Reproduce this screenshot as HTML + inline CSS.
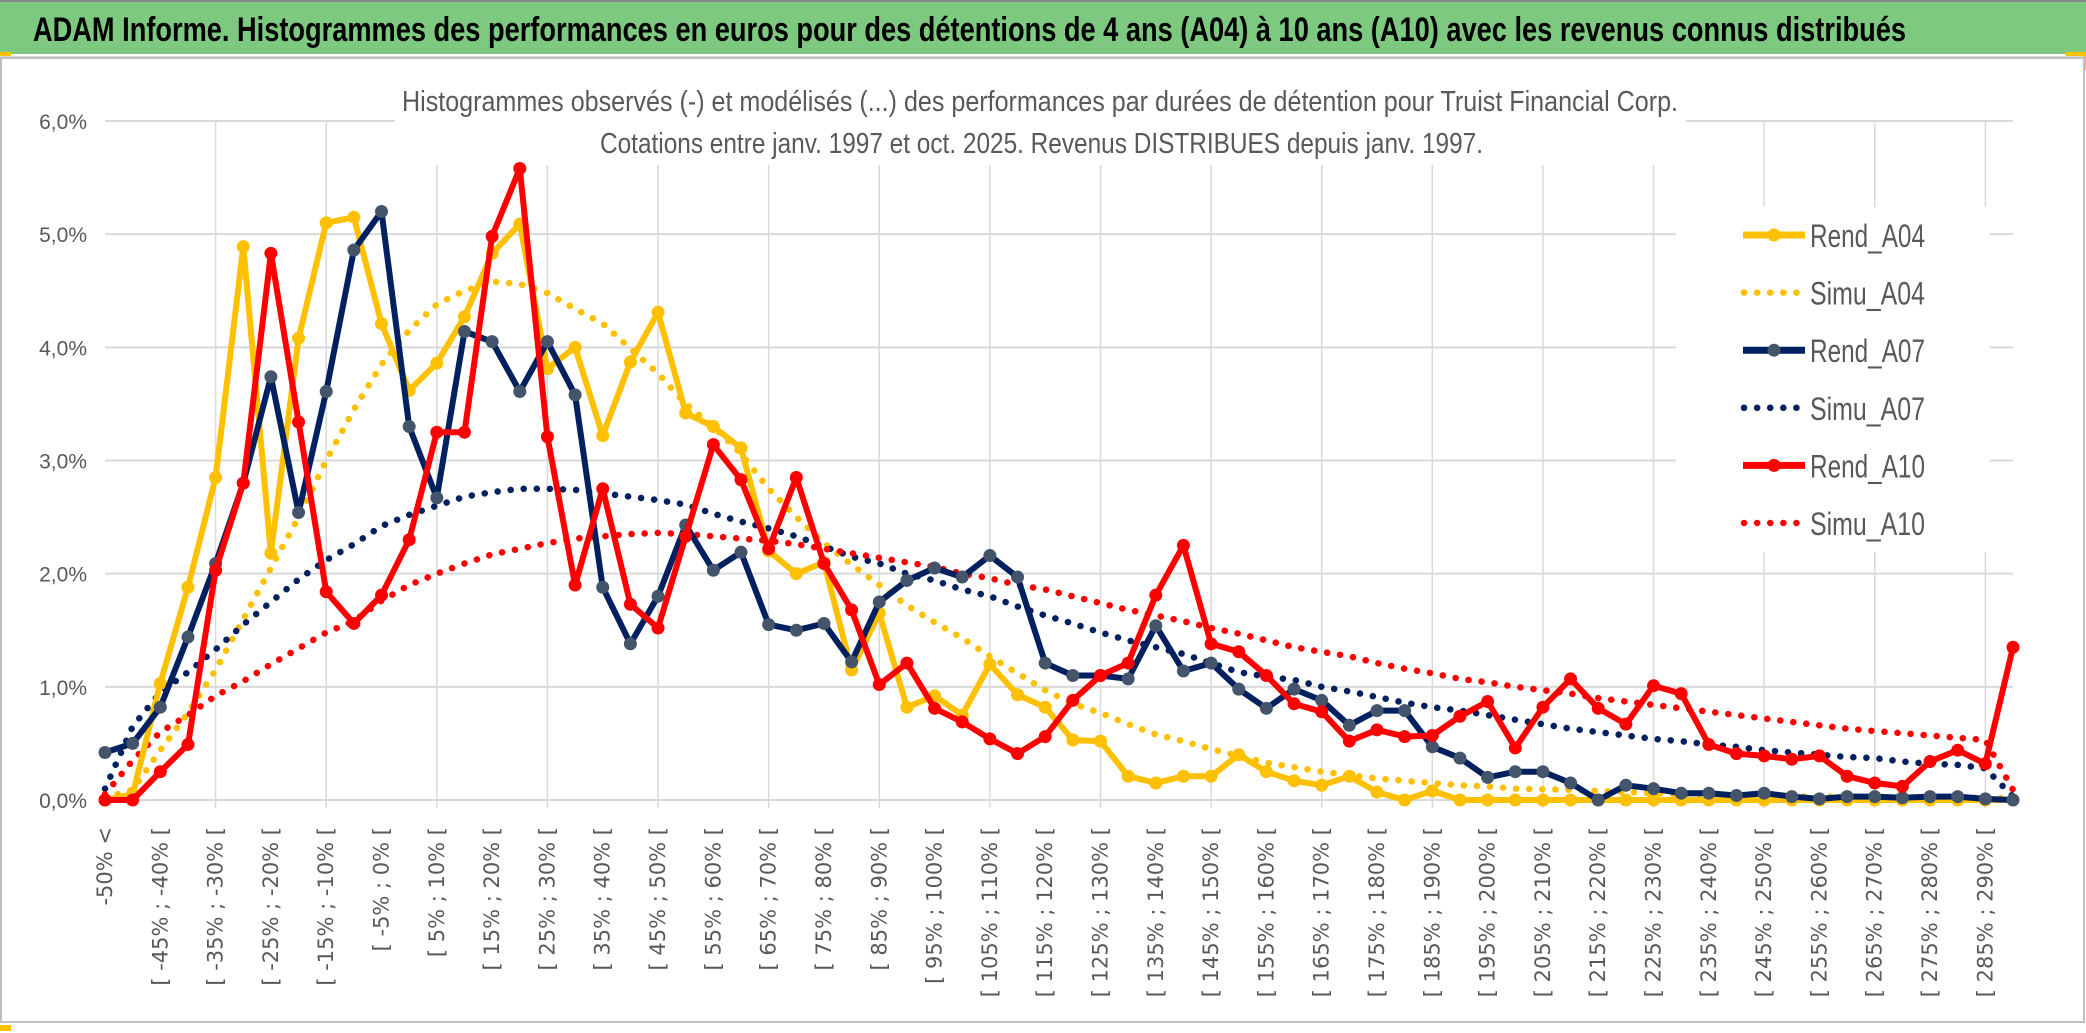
<!DOCTYPE html>
<html><head><meta charset="utf-8"><style>
html,body{margin:0;padding:0;background:#fff;}
svg{display:block;}
</style></head><body>
<svg id="chart" width="2086" height="1033" xmlns="http://www.w3.org/2000/svg">
  <rect x="0" y="0" width="2086" height="1033" fill="#fff"/>
  <rect x="0" y="0" width="2086" height="54" fill="#7DC97F"/>
  <rect x="0" y="0" width="2086" height="2" fill="#888"/>
  <text x="33" y="41" font-family="'Liberation Sans Narrow','Liberation Sans',sans-serif" font-weight="bold" font-size="34" fill="#000" textLength="1873" lengthAdjust="spacingAndGlyphs">ADAM Informe. Histogrammes des performances en euros pour des détentions de 4 ans (A04) à 10 ans (A10) avec les revenus connus distribués</text>
  <rect x="0" y="56" width="2086" height="3" fill="#d9d9d9"/>
  <rect x="0" y="52" width="11" height="4" fill="#FFC000"/>
  <rect x="2066" y="52" width="20" height="4" fill="#FFC000"/>
  <rect x="2083" y="52" width="3" height="18" fill="#FFC000"/>
  <rect x="1" y="58" width="2083" height="964" fill="none" stroke="#bfbfbf" stroke-width="2"/>
  <rect x="0" y="1025" width="11" height="6" fill="#FFC000"/>
  <g id="grid"></g>
  <rect x="395" y="80" width="1291" height="85" fill="#fff"/>
  <text x="402" y="111" font-family="'Liberation Sans Narrow','Liberation Sans',sans-serif" font-size="29" fill="#595959" textLength="1276" lengthAdjust="spacingAndGlyphs">Histogrammes observés (-) et modélisés (...) des performances par durées de détention pour Truist Financial Corp.</text>
  <text x="600" y="153" font-family="'Liberation Sans Narrow','Liberation Sans',sans-serif" font-size="29" fill="#595959" textLength="883" lengthAdjust="spacingAndGlyphs">Cotations entre janv. 1997 et oct. 2025.  Revenus DISTRIBUES depuis janv. 1997.</text>
  <g id="yticks"></g>
  <g id="xticks"></g>
  <g id="series"></g>
  <rect x="1676" y="207" width="314" height="345" fill="#fff"/>
  <g id="legend"></g>
</svg>
<script>
const categoriesCount = 70;
const yTicks = ["0,0%","1,0%","2,0%","3,0%","4,0%","5,0%","6,0%"];
const rendA04 = [0,0.05,1.03,1.88,2.85,4.89,2.18,4.08,5.10,5.15,4.21,3.62,3.86,4.27,4.83,5.09,3.81,4.00,3.22,3.87,4.31,3.42,3.30,3.11,2.2,2.0,2.1,1.15,1.65,0.82,0.92,0.75,1.2,0.93,0.82,0.53,0.52,0.21,0.15,0.21,0.21,0.40,0.25,0.17,0.13,0.21,0.07,0,0.08,0,0,0,0,0,0,0,0,0,0,0,0,0,0,0,0,0,0,0,0,0];
const simuA04 = [0.02,0.09,0.44,0.77,1.15,1.6,2.05,2.5,3.0,3.45,3.85,4.15,4.38,4.5,4.58,4.56,4.48,4.34,4.21,3.99,3.77,3.5,3.3,3.06,2.75,2.5,2.27,2.08,1.9,1.72,1.57,1.43,1.27,1.12,0.97,0.85,0.77,0.67,0.58,0.52,0.45,0.39,0.33,0.29,0.25,0.22,0.19,0.17,0.15,0.13,0.12,0.1,0.095,0.09,0.08,0.07,0.06,0.05,0.05,0.04,0.04,0.03,0.03,0.03,0.02,0.02,0.02,0.02,0.02,0.01];
const rendA07 = [0.42,0.5,0.82,1.44,2.09,2.8,3.74,2.54,3.61,4.86,5.2,3.3,2.67,4.14,4.05,3.61,4.05,3.58,1.88,1.38,1.8,2.43,2.03,2.19,1.55,1.5,1.56,1.22,1.75,1.94,2.05,1.97,2.16,1.97,1.21,1.1,1.1,1.07,1.54,1.14,1.21,0.98,0.81,0.98,0.88,0.66,0.79,0.79,0.47,0.37,0.2,0.25,0.25,0.15,0,0.13,0.1,0.06,0.06,0.04,0.06,0.03,0.01,0.03,0.03,0.02,0.03,0.03,0.01,0];
const simuA07 = [0.1,0.65,0.95,1.13,1.33,1.55,1.75,1.95,2.12,2.26,2.42,2.52,2.6,2.68,2.72,2.75,2.75,2.74,2.71,2.68,2.65,2.61,2.53,2.46,2.4,2.33,2.24,2.15,2.09,2.0,1.94,1.86,1.8,1.71,1.63,1.56,1.48,1.41,1.35,1.29,1.21,1.13,1.09,1.06,1.0,0.96,0.91,0.86,0.82,0.79,0.75,0.71,0.67,0.63,0.6,0.57,0.54,0.52,0.49,0.47,0.44,0.42,0.4,0.38,0.37,0.34,0.32,0.31,0.28,0.03];
const rendA10 = [0,0,0.25,0.49,2.03,2.8,4.83,3.34,1.84,1.56,1.81,2.3,3.25,3.25,4.98,5.58,3.21,1.9,2.75,1.73,1.52,2.33,3.14,2.83,2.22,2.85,2.09,1.68,1.02,1.21,0.81,0.69,0.54,0.41,0.56,0.88,1.1,1.21,1.81,2.25,1.38,1.31,1.1,0.85,0.78,0.52,0.62,0.56,0.57,0.74,0.87,0.46,0.82,1.07,0.81,0.67,1.01,0.94,0.49,0.41,0.39,0.36,0.39,0.21,0.15,0.12,0.34,0.44,0.32,1.35];
const simuA10 = [0.05,0.35,0.6,0.75,0.92,1.05,1.2,1.34,1.48,1.58,1.76,1.9,2.0,2.09,2.17,2.22,2.27,2.31,2.33,2.35,2.36,2.35,2.33,2.31,2.29,2.26,2.22,2.18,2.14,2.1,2.06,2.0,1.96,1.9,1.86,1.8,1.74,1.68,1.63,1.58,1.52,1.47,1.41,1.35,1.31,1.27,1.21,1.16,1.12,1.07,1.04,1.0,0.97,0.94,0.9,0.87,0.84,0.81,0.78,0.75,0.72,0.69,0.66,0.63,0.61,0.59,0.57,0.55,0.53,0.09];

const NS = "http://www.w3.org/2000/svg";
const X0 = 105, X1 = 2013, Y0 = 800, Y6 = 121;
function xScale(i){ return X0 + (X1 - X0) * i / (categoriesCount - 1); }
function yScale(v){ return Y0 - (Y0 - Y6) * v / 6; }
function mk(tag, attrs, parent){ const e = document.createElementNS(NS, tag); for (const k in attrs) e.setAttribute(k, attrs[k]); parent.appendChild(e); return e; }
function catLabel(i){
  if (i === 0) return "-50% <";
  const lo = -50 + 5 * (i - 1), hi = lo + 5;
  return "[ " + lo + "% ; " + hi + "% [";
}

const grid = document.getElementById('grid');
for (let k = 0; k <= 6; k++) {
  const y = yScale(k);
  const l = mk('line', {x1: X0, x2: X1, y1: y, y2: y, stroke: '#d9d9d9', 'stroke-width': 2}, grid);
  
  
}
for (let i = 4; i < categoriesCount; i += 4) {
  const x = xScale(i);
  const l = mk('line', {x1: x, x2: x, y1: Y6, y2: Y0 + 8, stroke: '#d9d9d9', 'stroke-width': 1.5}, grid);
  
  
}

const yt = document.getElementById('yticks');
yTicks.forEach((t, k) => {
  const e = mk('text', {x: 87, y: yScale(k) + 8, 'text-anchor': 'end', 'font-family': "'Liberation Sans Narrow','Liberation Sans',sans-serif", 'font-size': 21, fill: '#595959'}, yt);
  
  
  e.textContent = t;
});

const xt = document.getElementById('xticks');
for (let i = 0; i < categoriesCount; i += 2) {
  const x = xScale(i) + 7;
  const e = mk('text', {x: 0, y: 0, transform: 'translate(' + x + ',827) rotate(-90)', 'text-anchor': 'end', 'font-family': "'DejaVu Sans',sans-serif", 'font-size': 21, fill: '#595959'}, xt);
  
  
  e.textContent = catLabel(i);
}

const seriesG = document.getElementById('series');
function pathD(arr){ return arr.map((v, i) => (i ? 'L' : 'M') + xScale(i).toFixed(1) + ' ' + yScale(v).toFixed(1)).join(' '); }
function drawDotted(arr, color, name){
  const p = mk('path', {d: pathD(arr), fill: 'none', stroke: color, 'stroke-width': 6.5, 'stroke-linecap': 'round', 'stroke-dasharray': '0.1 13'}, seriesG);
  
  
}
function drawRend(arr, color, mcolor, name){
  const g = mk('g', {}, seriesG);
  
  
  mk('path', {d: pathD(arr), fill: 'none', stroke: color, 'stroke-width': 6, 'stroke-linejoin': 'round'}, g);
  arr.forEach((v, i) => {
    const c = mk('circle', {cx: xScale(i), cy: yScale(v), r: 6.5, fill: mcolor}, g);
    
    
  });
}
drawDotted(simuA04, '#FFC000', 'simu-a04-line');
drawDotted(simuA07, '#002060', 'simu-a07-line');
drawDotted(simuA10, '#FF0000', 'simu-a10-line');
drawRend(rendA04, '#FFC000', '#FFC000', 'rend-a04-line');
drawRend(rendA07, '#002060', '#44546A', 'rend-a07-line');
drawRend(rendA10, '#FF0000', '#FF0000', 'rend-a10-line');

const legendNames = ["Rend_A04","Simu_A04","Rend_A07","Simu_A07","Rend_A10","Simu_A10"];
const legendColors = ['#FFC000','#FFC000','#002060','#002060','#FF0000','#FF0000'];
const legendMarkers = ['#FFC000',null,'#44546A',null,'#FF0000',null];
const lg = document.getElementById('legend');
legendNames.forEach((n, k) => {
  const y = 235 + k * 57.6;
  const g = mk('g', {}, lg);
  
  
  if (legendMarkers[k]) {
    mk('line', {x1: 1743, x2: 1805, y1: y, y2: y, stroke: legendColors[k], 'stroke-width': 7}, g);
    mk('circle', {cx: 1774, cy: y, r: 6.5, fill: legendMarkers[k]}, g);
  } else {
    mk('line', {x1: 1744, x2: 1800, y1: y, y2: y, stroke: legendColors[k], 'stroke-width': 6.5, 'stroke-linecap': 'round', 'stroke-dasharray': '0.1 13'}, g);
  }
  const t = mk('text', {x: 1810, y: y + 12, 'font-family': "'Liberation Sans Narrow','Liberation Sans',sans-serif", 'font-size': 32, fill: '#595959', textLength: 115, lengthAdjust: 'spacingAndGlyphs'}, g);
  t.textContent = n;
});
</script>
</body></html>
